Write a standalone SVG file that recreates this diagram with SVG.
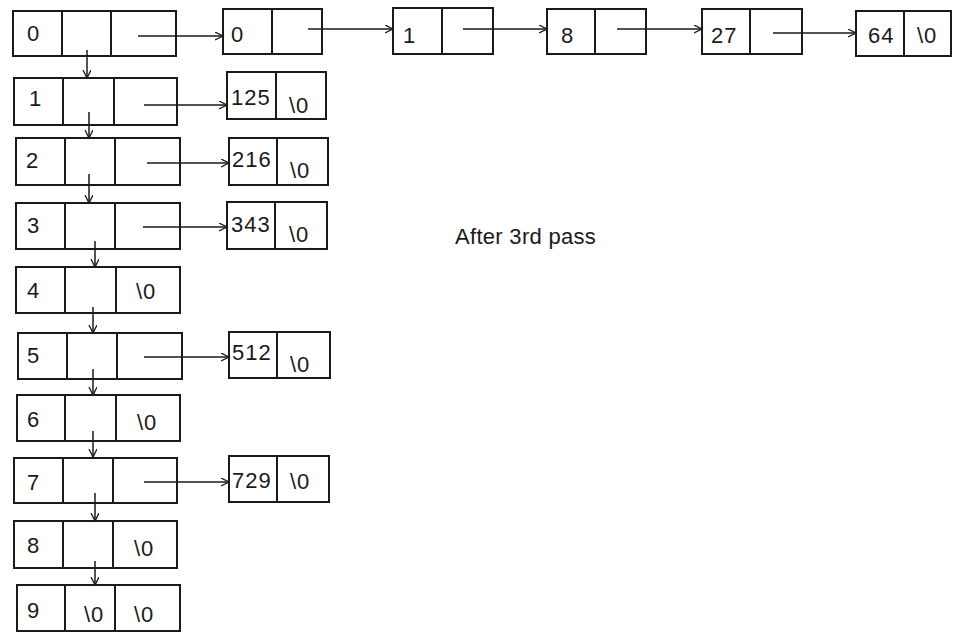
<svg xmlns="http://www.w3.org/2000/svg" width="953" height="632" viewBox="0 0 953 632">
<defs>
<style>
.b{fill:none;stroke:#1a1a1a;stroke-width:2}
.t{font-family:"Liberation Sans",Arial,sans-serif;font-size:22px;fill:#1a1a1a;letter-spacing:1px}
.c{fill:none;stroke:#1a1a1a;stroke-width:1.5}
</style>
<marker id="ah" markerWidth="10" markerHeight="10" refX="8" refY="4" orient="auto" markerUnits="userSpaceOnUse">
<path d="M0,0 L8,4 L0,8" fill="none" stroke="#1a1a1a" stroke-width="1.3"/>
</marker>
</defs>
<rect width="953" height="632" fill="#fff"/>

<g id="row0"><rect class="b" x="13" y="11" width="163" height="45"/><path class="b" d="M62,11V56M111,11V56"/><text class="t" x="27" y="41">0</text></g>
<g id="row1"><rect class="b" x="14" y="78" width="163" height="47"/><path class="b" d="M63,78V125M114,78V125"/><text class="t" x="29" y="106">1</text></g>
<g id="row2"><rect class="b" x="16" y="138" width="164" height="47"/><path class="b" d="M65,138V185M115,138V185"/><text class="t" x="26" y="168">2</text></g>
<g id="row3"><rect class="b" x="16" y="203" width="164" height="46"/><path class="b" d="M65,203V249M115,203V249"/><text class="t" x="27" y="233">3</text></g>
<g id="row4"><rect class="b" x="16" y="267" width="164" height="46"/><path class="b" d="M65,267V313M116,267V313"/><text class="t" x="27" y="298">4</text><text class="t" x="136" y="299">\0</text></g>
<g id="row5"><rect class="b" x="18" y="333" width="164" height="46"/><path class="b" d="M67,333V379M117,333V379"/><text class="t" x="27" y="363">5</text></g>
<g id="row6"><rect class="b" x="17" y="395" width="163" height="46"/><path class="b" d="M65,395V441M116,395V441"/><text class="t" x="27" y="427">6</text><text class="t" x="137" y="430">\0</text></g>
<g id="row7"><rect class="b" x="14" y="458" width="163" height="45"/><path class="b" d="M63,458V503M113,458V503"/><text class="t" x="27" y="490">7</text></g>
<g id="row8"><rect class="b" x="14" y="521" width="163" height="47"/><path class="b" d="M63,521V568M113,521V568"/><text class="t" x="27" y="553">8</text><text class="t" x="134" y="556">\0</text></g>
<g id="row9"><rect class="b" x="17" y="585" width="163" height="46"/><path class="b" d="M65,585V631M115,585V631"/><text class="t" x="27" y="618">9</text><text class="t" x="84" y="622">\0</text><text class="t" x="134" y="622">\0</text></g>

<g id="n0"><rect class="b" x="223" y="9" width="99" height="45"/><path class="b" d="M272,9V54"/><text class="t" x="231" y="42">0</text></g>
<g id="n1"><rect class="b" x="393" y="8" width="100" height="46"/><path class="b" d="M442,8V54"/><text class="t" x="403" y="43">1</text></g>
<g id="n8"><rect class="b" x="547" y="9" width="99" height="45"/><path class="b" d="M595,9V54"/><text class="t" x="561" y="43">8</text></g>
<g id="n27"><rect class="b" x="702" y="9" width="100" height="45"/><path class="b" d="M750,9V54"/><text class="t" x="711" y="43">27</text></g>
<g id="n64"><rect class="b" x="856" y="11" width="95" height="45"/><path class="b" d="M904,11V56"/><text class="t" x="868" y="43">64</text><text class="t" x="917" y="43">\0</text></g>

<g id="n125"><rect class="b" x="227" y="72" width="99" height="47"/><path class="b" d="M276,72V119"/><text class="t" x="231" y="105">125</text><text class="t" x="289" y="113">\0</text></g>
<g id="n216"><rect class="b" x="229" y="138" width="99" height="47"/><path class="b" d="M277,138V185"/><text class="t" x="232" y="167">216</text><text class="t" x="290" y="178">\0</text></g>
<g id="n343"><rect class="b" x="227" y="202" width="100" height="47"/><path class="b" d="M275,202V249"/><text class="t" x="231" y="232">343</text><text class="t" x="289" y="242">\0</text></g>
<g id="n512"><rect class="b" x="229" y="332" width="101" height="46"/><path class="b" d="M277,332V378"/><text class="t" x="232" y="360">512</text><text class="t" x="290" y="372">\0</text></g>
<g id="n729"><rect class="b" x="229" y="456" width="100" height="46"/><path class="b" d="M277,456V502"/><text class="t" x="232" y="488">729</text><text class="t" x="290" y="489">\0</text></g>

<g id="connectors">
<path class="c" marker-end="url(#ah)" d="M138,36H223"/>
<path class="c" marker-end="url(#ah)" d="M308,29H393"/>
<path class="c" marker-end="url(#ah)" d="M463,29H547"/>
<path class="c" marker-end="url(#ah)" d="M617,29H702"/>
<path class="c" marker-end="url(#ah)" d="M773,33H856"/>
<path class="c" marker-end="url(#ah)" d="M144,105H227"/>
<path class="c" marker-end="url(#ah)" d="M147,163H229"/>
<path class="c" marker-end="url(#ah)" d="M143,227H227"/>
<path class="c" marker-end="url(#ah)" d="M144,357H229"/>
<path class="c" marker-end="url(#ah)" d="M144,482H229"/>
<path class="c" marker-end="url(#ah)" d="M87,50V78"/>
<path class="c" marker-end="url(#ah)" d="M89,112V138"/>
<path class="c" marker-end="url(#ah)" d="M89,174V203"/>
<path class="c" marker-end="url(#ah)" d="M95,241V267"/>
<path class="c" marker-end="url(#ah)" d="M93,307V333"/>
<path class="c" marker-end="url(#ah)" d="M93,369V395"/>
<path class="c" marker-end="url(#ah)" d="M93,431V457"/>
<path class="c" marker-end="url(#ah)" d="M95,493V521"/>
<path class="c" marker-end="url(#ah)" d="M95,561V585"/>
</g>

<text class="t" x="455" y="244" style="letter-spacing:0.3px">After 3rd pass</text>
</svg>
